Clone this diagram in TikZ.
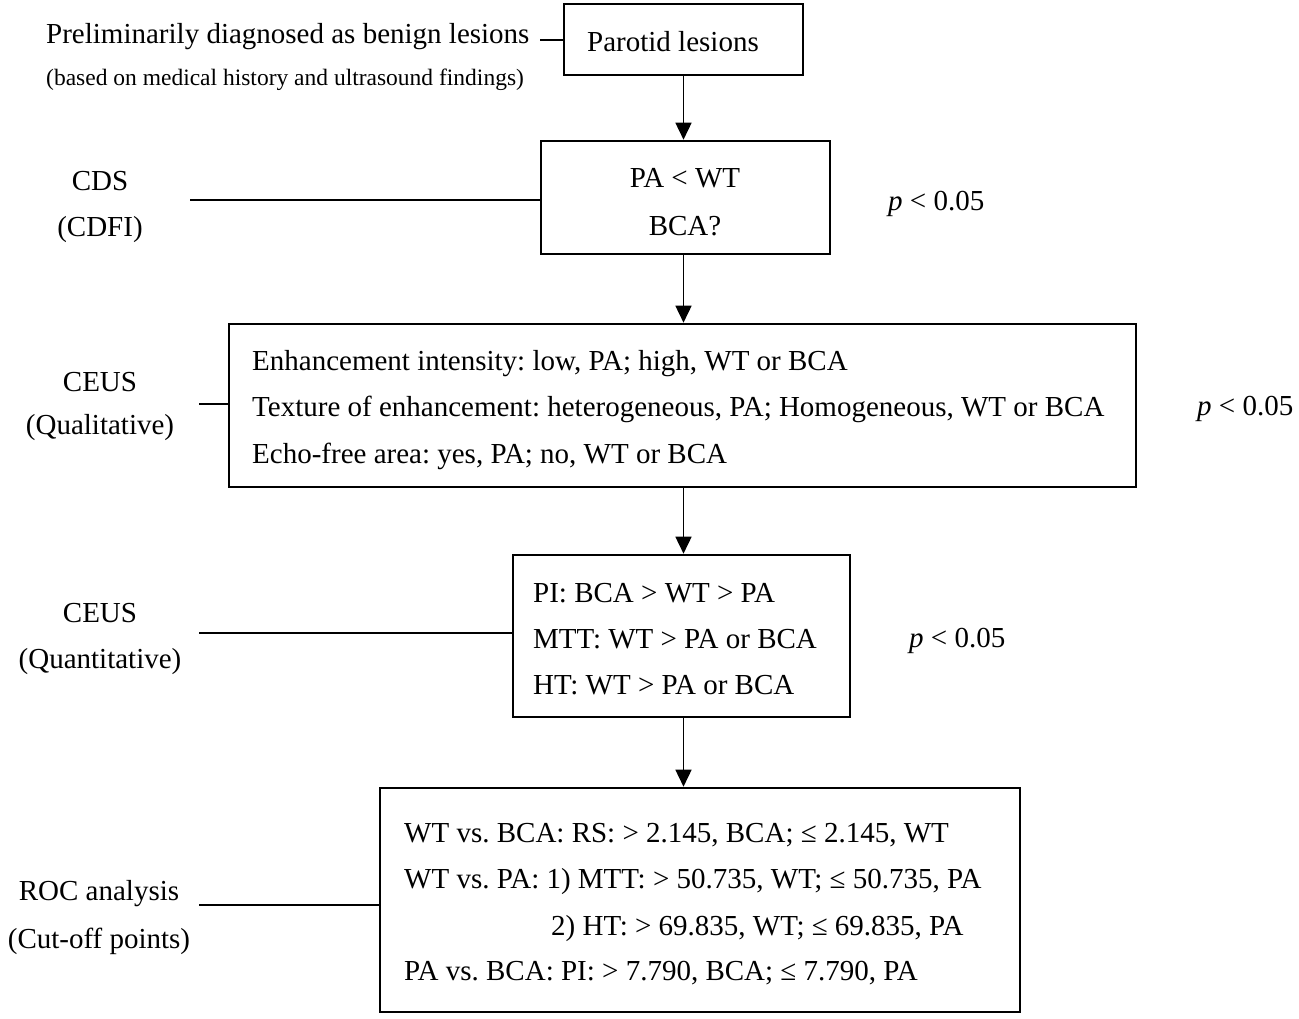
\documentclass[tikz,border=0pt]{standalone}
\usepackage{fontspec}
\setmainfont{Liberation Serif}
\usetikzlibrary{arrows.meta}
\frenchspacing
\begin{document}
\begin{tikzpicture}[x=1pt,y=-1pt,
  box/.style={draw,line width=2.6pt,inner sep=0pt},
  txt/.style={inner sep=0pt,anchor=base west,font=\fontsize{29}{35}\selectfont},
  ctxt/.style={inner sep=0pt,anchor=base,font=\fontsize{29}{35}\selectfont},
  small/.style={inner sep=0pt,anchor=base west,font=\fontsize{23.5}{28}\selectfont},
  conn/.style={line width=1.6pt},
  arr/.style={line width=1.6pt,-{Triangle[length=17pt,width=16pt]}}]
\useasboundingbox[fill=white] (0,0) rectangle (1299,1019);

% boxes
\node[box,minimum width=239pt,minimum height=71pt] (parotid) at (683.5,39.5) {};
\node[box,minimum width=289pt,minimum height=113pt] (cds) at (685.5,197.5) {};
\node[box,minimum width=907pt,minimum height=163pt] (qual) at (682.5,405.5) {};
\node[box,minimum width=337pt,minimum height=162pt] (quant) at (681.5,636) {};
\node[box,minimum width=640pt,minimum height=224pt] (roc) at (700,900) {};

% top
\node[txt] (partxt) at (587,52) {Parotid lesions};
\node[txt] (prelim) at (46,44) {Preliminarily diagnosed as benign lesions};
\node[small] (based) at (46,86) {(based on medical history and ultrasound findings)};
\coordinate (prelimend) at (540,40);
\draw[conn] (prelimend) -- (prelimend -| parotid.west);

% CDS
\node[ctxt] (pawt) at (685,188) {PA < WT};
\node[ctxt] (bca) at (685,236) {BCA?};
\node[ctxt] (cdsl1) at (100,191) {CDS};
\node[ctxt] (cdsl2) at (100,237) {(CDFI)};
\coordinate (cdsline) at (190,200);
\draw[conn] (cdsline) -- (cdsline -| cds.west);
\node[txt] (p1) at (888,211) {\textit{p} < 0.05};

% CEUS qualitative
\node[txt] (q1) at (252,370) {Enhancement intensity: low, PA; high, WT or BCA};
\node[txt] (q2) at (252,416) {Texture of enhancement: heterogeneous, PA; Homogeneous, WT or BCA};
\node[txt] (q3) at (252,463) {Echo-free area: yes, PA; no, WT or BCA};
\node[ctxt] (ql1) at (100,391) {CEUS};
\node[ctxt] (ql2) at (100,434) {(Qualitative)};
\coordinate (qualline) at (199,404);
\draw[conn] (qualline) -- (qualline -| qual.west);
\node[txt] (p2) at (1197,415) {\textit{p} < 0.05};

% CEUS quantitative
\node[txt] (n1) at (533,602) {PI: BCA > WT > PA};
\node[txt] (n2) at (533,648) {MTT: WT > PA or BCA};
\node[txt] (n3) at (533,694) {HT: WT > PA or BCA};
\node[ctxt] (nl1) at (100,622) {CEUS};
\node[ctxt] (nl2) at (100,668) {(Quantitative)};
\coordinate (quantline) at (199,633);
\draw[conn] (quantline) -- (quantline -| quant.west);
\node[txt] (p3) at (909,647) {\textit{p} < 0.05};

% ROC
\node[txt] (r1) at (404,842) {WT vs. BCA: RS: > 2.145, BCA; ≤ 2.145, WT};
\node[txt] (r2) at (404,888) {WT vs. PA: 1) MTT: > 50.735, WT; ≤ 50.735, PA};
\node[txt] (r3) at (551,935) {2) HT: > 69.835, WT; ≤ 69.835, PA};
\node[txt] (r4) at (404,980) {PA vs. BCA: PI: > 7.790, BCA; ≤ 7.790, PA};
\node[ctxt] (rl1) at (99,900) {ROC analysis};
\node[ctxt] (rl2) at (99,948) {(Cut-off points)};
\coordinate (rocline) at (199,905);
\draw[conn] (rocline) -- (rocline -| roc.west);

% arrows
\draw[arr] (parotid.south) -- (parotid.south |- cds.north);
\draw[arr] (parotid.south |- cds.south) -- (parotid.south |- qual.north);
\draw[arr] (parotid.south |- qual.south) -- (parotid.south |- quant.north);
\draw[arr] (parotid.south |- quant.south) -- (parotid.south |- roc.north);
\end{tikzpicture}
\end{document}
